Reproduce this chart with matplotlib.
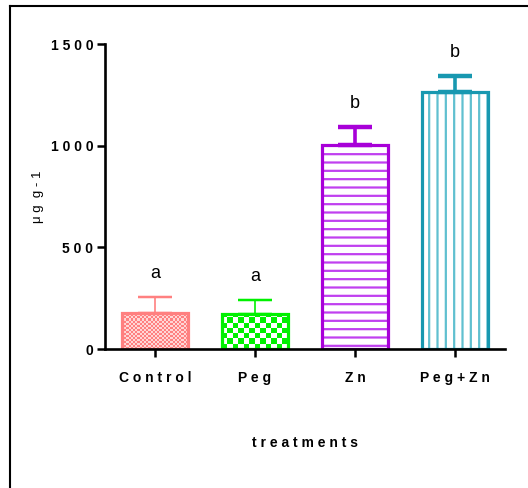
"""Bar chart of treatment means with upper error bars and significance letters."""

import matplotlib
matplotlib.use("Agg")
import matplotlib.pyplot as plt
import numpy as np
from matplotlib.colors import ListedColormap
from matplotlib.lines import Line2D

plt.rcParams["font.family"] = ["Liberation Sans", "DejaVu Sans"]
plt.rcParams["hatch.linewidth"] = 1.6

treatments = ["Control", "Peg", "Zn", "Peg+Zn"]
means = [177, 172, 1003, 1264]
errors = [79, 69, 89, 79]
letters = ["a", "a", "b", "b"]
y_ticks = [0, 500, 1000, 1500]

EDGE = ["#ff8080", "#00f000", "#a800d8", "#1898b0"]
INNER = ["#ffd6d6", "#ffffff", "#c040f0", "#60c0d0"]
HATCH = [None, None, "--", "||"]
# checker cell sizes (data units) for the two checkerboard bars
CHECKER = {0: (0.022, 10.0), 1: (0.055, 26.0)}
THICK = [1.2, 1.2, 2.6, 2.6]


def spaced(s):
    return " ".join(s)


fig = plt.figure(figsize=(5.28, 4.88), dpi=100)
ax = fig.add_axes([0.1989, 0.2848, 0.7575, 0.625])
x = np.arange(len(treatments))
width = 0.66

for i, (m, e) in enumerate(zip(means, errors)):
    if i in CHECKER:
        cx, cy = CHECKER[i]
        nx = int(np.ceil(width / cx))
        ny = int(np.ceil(m / cy))
        board = (np.indices((ny, nx)).sum(axis=0) % 2).astype(float)
        fill = ax.bar(x[i], m, width, color="none", linewidth=0, zorder=1)[0]
        im = ax.imshow(board, extent=(x[i] - width / 2, x[i] - width / 2 + nx * cx, 0, ny * cy),
                       cmap=ListedColormap([EDGE[i], INNER[i]]), interpolation="nearest",
                       aspect="auto", origin="lower", zorder=1)
        im.set_clip_path(fill)
    else:
        ax.bar(x[i], m, width, facecolor="white", edgecolor=INNER[i], hatch=HATCH[i],
               linewidth=0, zorder=1)
    ax.bar(x[i], m, width, facecolor="none", edgecolor=EDGE[i], linewidth=2.3, zorder=2)
    ax.errorbar(x[i], m, yerr=[[0], [e]], fmt="none", ecolor=EDGE[i],
                elinewidth=THICK[i], capsize=11.9, capthick=THICK[i] + 0.6, zorder=1.5)
    ax.annotate(letters[i], (x[i], m + e), xytext=(0, 10.5), textcoords="offset points",
                ha="center", va="bottom", fontsize=13)

ax.set_xlim(-0.5, 3.5)
ax.set_ylim(0, 1500)
ax.set_yticks(y_ticks, [spaced(str(t)) for t in y_ticks])
ax.set_xticks(x, [spaced(t) for t in treatments])
for lab in ax.get_xticklabels() + ax.get_yticklabels():
    lab.set_fontweight("bold")
    lab.set_fontsize(10)
ax.tick_params(axis="both", width=1.8, length=5.5, color="black")
ax.tick_params(axis="x", pad=10)
ax.tick_params(axis="y", pad=3)
for side in ("top", "right"):
    ax.spines[side].set_visible(False)
for side in ("left", "bottom"):
    ax.spines[side].set_linewidth(1.9)
ax.set_ylabel(spaced("μg") + "  " + spaced("g-1"), fontsize=9.5, labelpad=5)
ax.set_xlabel(spaced("treatments"), fontsize=10, fontweight="bold", labelpad=37)

# outer frame, only left and top edges visible
fig.add_artist(Line2D([10 / 528, 10 / 528], [0, 1 - 6 / 488], transform=fig.transFigure,
                      color="black", linewidth=1.5))
fig.add_artist(Line2D([10 / 528, 1], [1 - 6 / 488, 1 - 6 / 488], transform=fig.transFigure,
                      color="black", linewidth=1.5))

fig.savefig("out.png", dpi=100)
